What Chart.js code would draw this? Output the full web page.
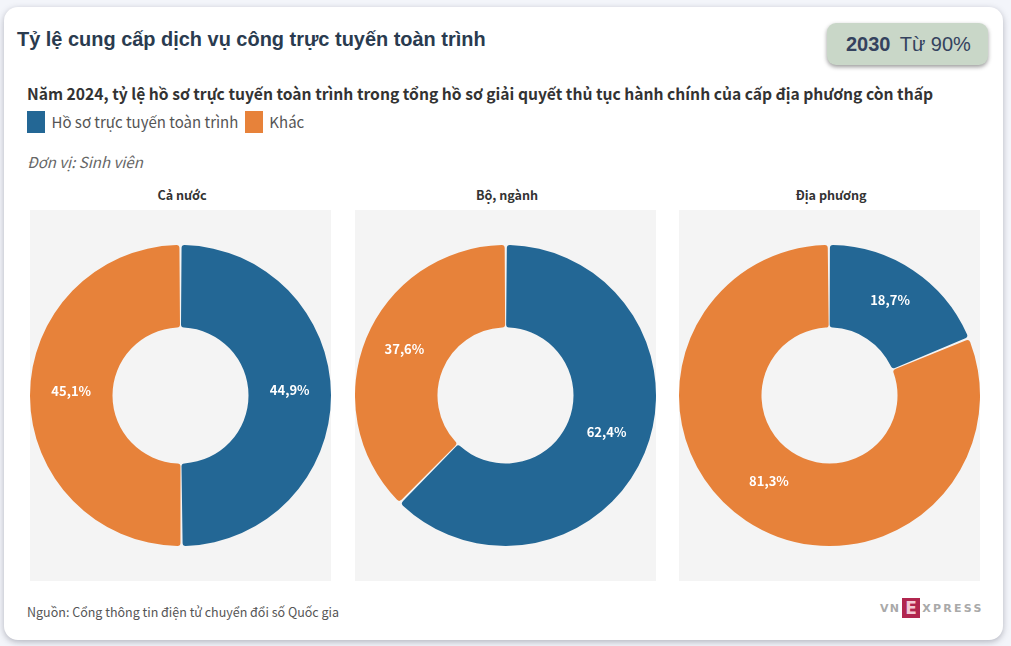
<!DOCTYPE html>
<html lang="vi">
<head>
<meta charset="utf-8">
<title>Tỷ lệ cung cấp dịch vụ công trực tuyến toàn trình</title>
<script src="https://cdn.jsdelivr.net/npm/chart.js@4"></script>
<style>
  html, body { margin: 0; padding: 0; background: #f3f5fa; width: 1011px; height: 646px; overflow: hidden; }
  body { position: relative; font-family: "Noto Sans CJK SC", "Noto Sans", sans-serif; color: #333; }
  .card { position: absolute; left: 4px; top: 7px; width: 999px; height: 633px; background: #fff; border-radius: 14px; box-shadow: 0 2px 6px rgba(60,60,80,.35); }
  .abs { position: absolute; white-space: nowrap; }
  #title { left: 17px; top: 27px; font: bold 19.95px "Liberation Sans", sans-serif; color: #2a3b4f; line-height: 24px; }
  #goal { left: 827px; top: 23px; width: 161px; height: 42px; box-sizing: border-box; padding-left: 19px; background: #c9d7c8; border-radius: 9px; box-shadow: 0 2px 4px rgba(0,0,0,.4); font: 20px/43px "Liberation Sans", sans-serif; color: #34425e; }
  #goal b { margin-right: 4px; }
  #subtitle { left: 27px; top: 83px; font-size: 15.65px; font-weight: 700; line-height: 22px; color: #333; }
  #legend { left: 27px; top: 111px; height: 22px; display: flex; align-items: center; font-size: 15px; color: #555; }
  #legend i { display: inline-block; width: 18px; height: 22px; margin-right: 6.5px; }
  #legend span { margin-right: 6.5px; position: relative; top: -1px; }
  #unit { left: 27px; top: 151px; font-size: 15px; font-style: italic; color: #666; line-height: 21px; }
  .head { top: 186px; width: 304px; text-align: center; font-size: 12.6px; font-weight: 700; color: #333; line-height: 18px; }
  .panel { position: absolute; top: 210px; width: 300.5px; height: 371px; background: #f4f4f4; overflow: hidden; }
  #source { left: 27px; top: 602px; font-size: 12.5px; color: #555; line-height: 19px; }
  #logo { left: 880px; top: 598px; height: 21px; font: bold 11px/21px "DejaVu Sans", sans-serif; color: #a9a9a9; display: flex; }
  #logo .vn { letter-spacing: 1.2px; }
  #logo .xp { letter-spacing: 2.3px; }
  #logo u { text-decoration: none; width: 18px; height: 20px; margin: 0 2px; background: #b1264f; color: #f3c9d5; text-align: center; font: bold 17px/20px "DejaVu Sans", sans-serif; }
</style>
</head>
<body>
<div class="card"></div>
<div class="abs" id="title">Tỷ lệ cung cấp dịch vụ công trực tuyến toàn trình</div>
<div class="abs" id="goal"><b>2030</b> Từ 90%</div>
<div class="abs" id="subtitle">Năm 2024, tỷ lệ hồ sơ trực tuyến toàn trình trong tổng hồ sơ giải quyết thủ tục hành chính của cấp địa phương còn thấp</div>
<div class="abs" id="legend"></div>
<div class="abs" id="unit">Đơn vị: Sinh viên</div>
<div id="panels"></div>
<div class="abs" id="source">Nguồn: Cổng thông tin điện tử chuyển đổi số Quốc gia</div>
<div class="abs" id="logo"><span class="vn">VN</span><u>E</u><span class="xp">XPRESS</span></div>

<script>
const seriesNames = ['Hồ sơ trực tuyến toàn trình', 'Khác'];
const seriesColors = ['#236795', '#e7823a'];
const chartTitles = ['Cả nước', 'Bộ, ngành', 'Địa phương'];
const caNuoc = [44.9, 45.1];
const boNganh = [62.4, 37.6];
const diaPhuong = [18.7, 81.3];
const chartValues = [caNuoc, boNganh, diaPhuong];
const panelLefts = [30, 355, 679];

// nhan % tren tung mieng
const sliceLabels = {
  id: 'sliceLabels',
  afterDatasetsDraw(chart) {
    const ctx = chart.ctx;
    const meta = chart.getDatasetMeta(0);
    ctx.save();
    ctx.font = 'bold 13px "Noto Sans CJK SC", "Noto Sans", sans-serif';
    ctx.fillStyle = '#fff';
    ctx.textAlign = 'center';
    ctx.textBaseline = 'middle';
    meta.data.forEach((arc, i) => {
      const p = arc.tooltipPosition();
      const txt = chart.data.datasets[0].data[i].toFixed(1).replace('.', ',') + '%';
      ctx.fillText(txt, p.x, p.y - 5);
    });
    ctx.restore();
  }
};

function criarRosca(canvas, values) {
  return new Chart(canvas.getContext('2d'), {
    type: 'doughnut',
    data: {
      labels: seriesNames,
      datasets: [{
        data: values,
        backgroundColor: seriesColors,
        borderWidth: 0,
        spacing: 1,
        borderRadius: 3
      }]
    },
    options: {
      responsive: false,
      animation: false,
      cutout: '45%',
      layout: { padding: { left: -0.5, right: -0.5 } },
      plugins: { legend: { display: false }, tooltip: { enabled: false } }
    },
    plugins: [sliceLabels]
  });
}

seriesNames.forEach((name, i) => {
  const box = document.createElement('i');
  box.style.background = seriesColors[i];
  const txt = document.createElement('span');
  txt.textContent = name;
  document.getElementById('legend').append(box, txt);
});

chartTitles.forEach((t, i) => {
  const head = document.createElement('div');
  head.className = 'abs head';
  head.style.left = panelLefts[i] + 'px';
  head.textContent = t;
  const panel = document.createElement('div');
  panel.className = 'panel';
  panel.style.left = panelLefts[i] + 'px';
  const canvas = document.createElement('canvas');
  canvas.width = 301;
  canvas.height = 371;
  panel.appendChild(canvas);
  document.getElementById('panels').append(head, panel);
  criarRosca(canvas, chartValues[i]);
});
</script>
</body>
</html>
